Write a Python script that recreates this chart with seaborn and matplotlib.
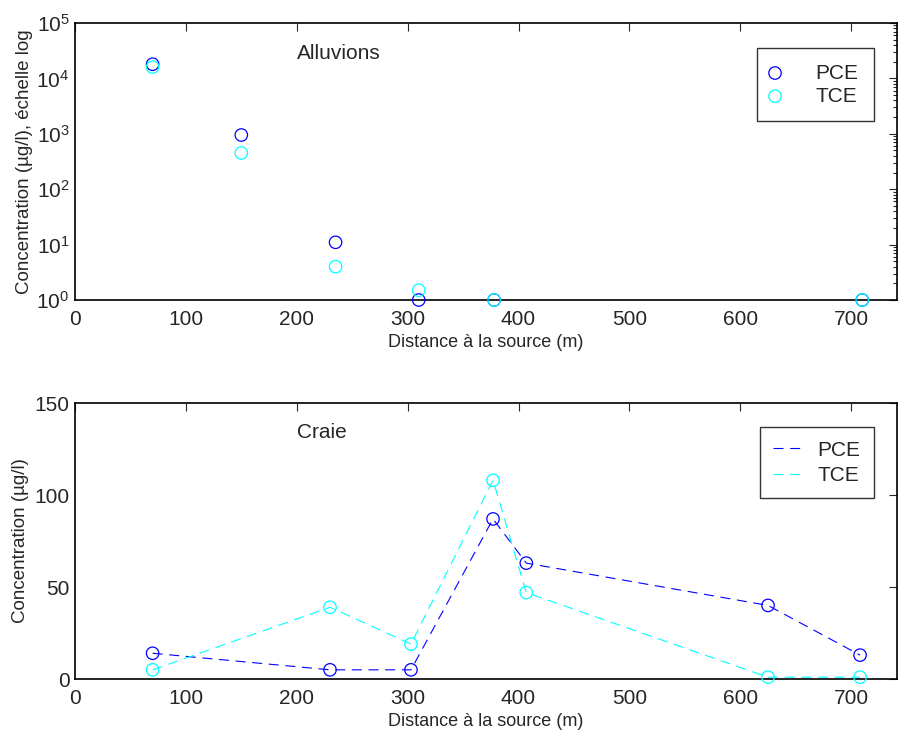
import numpy as np
import pandas as pd
import matplotlib
matplotlib.use("Agg")
import matplotlib.pyplot as plt
import seaborn as sns

# Alluvions (log scale, markers only)
allu_dist = [70, 150, 235, 310, 378, 710]
allu_pce = [18000, 950, 11, 1.0, 1.0, 1.0]
allu_tce = [16000, 450, 4, 1.5, 1.0, 1.0]

# Craie (linear scale, dashed lines)
craie_dist = [70, 230, 303, 377, 407, 625, 708]
craie_pce = [14, 5, 5, 87, 63, 40, 13]
craie_tce = [5, 39, 19, 108, 47, 1, 1]

blue = (0, 0, 1)
cyan = (0, 1, 1)

sns.set_style("white")
plt.rcParams["font.family"] = ["Liberation Sans", "DejaVu Sans"]
plt.rcParams["mathtext.default"] = "regular"
plt.rcParams["xtick.direction"] = "in"
plt.rcParams["ytick.direction"] = "in"

fig = plt.figure(figsize=(8.98, 7.31), dpi=100)
ax1 = fig.add_axes([0.0835, 0.5896, 0.915, 0.379])
ax2 = fig.add_axes([0.0835, 0.0711, 0.915, 0.3776])

# top panel
sns.scatterplot(x=allu_dist, y=allu_pce, ax=ax1, marker="o", s=80,
                facecolors="none", edgecolor=blue, linewidth=0.9, label="PCE",
                clip_on=False, zorder=5)
sns.scatterplot(x=allu_dist, y=allu_tce, ax=ax1, marker="o", s=80,
                facecolors="none", edgecolor=cyan, linewidth=0.9, label="TCE",
                clip_on=False, zorder=5)
ax1.set_yscale("log")
ax1.set_ylim(1, 1e5)
ax1.set_xlim(0, 741)
ax1.set_xticks(range(0, 800, 100))
ax1.set_yticks([1, 10, 100, 1e3, 1e4, 1e5])
ax1.text(200, 2.8e4, "Alluvions", fontsize=15, va="center")
ax1.set_xlabel("Distance à la source (m)", fontsize=13, labelpad=4)
ax1.set_ylabel("Concentration (µg/l), échelle log", fontsize=13.5, labelpad=2)
leg1 = ax1.legend(loc="upper right", bbox_to_anchor=(0.972, 0.91), fontsize=15,
                  frameon=True, fancybox=False, edgecolor="black", borderaxespad=0,
                  handlelength=0.2, handletextpad=1.82, borderpad=0.75,
                  labelspacing=0.2)
leg1.get_frame().set_linewidth(1.0)

# bottom panel
for vals, col, name in [(craie_pce, blue, "PCE"), (craie_tce, cyan, "TCE")]:
    df = pd.DataFrame({"dist": craie_dist, "conc": vals})
    sns.lineplot(data=df, x="dist", y="conc", ax=ax2, color=col, linewidth=0.8,
                 linestyle=(0, (9, 6)), label=name)
    sns.scatterplot(data=df, x="dist", y="conc", ax=ax2, marker="o", s=80,
                    facecolors="none", edgecolor=col, linewidth=0.9,
                    clip_on=False, zorder=5)
ax2.set_ylim(0, 150)
ax2.set_xlim(0, 741)
ax2.set_xticks(range(0, 800, 100))
ax2.set_yticks([0, 50, 100, 150])
ax2.text(200, 134, "Craie", fontsize=15, va="center")
ax2.set_xlabel("Distance à la source (m)", fontsize=13, labelpad=4)
ax2.set_ylabel("Concentration (µg/l)", fontsize=13.5, labelpad=4)
leg2 = ax2.legend(loc="upper right", bbox_to_anchor=(0.972, 0.913), fontsize=15,
                  frameon=True, fancybox=False, edgecolor="black", borderaxespad=0,
                  handlelength=1.5, handletextpad=0.6, borderpad=0.65,
                  labelspacing=0.3)
leg2.get_frame().set_linewidth(1.0)

for ax in (ax1, ax2):
    ax.tick_params(axis="both", which="both", top=True, right=True, labelsize=15,
                   length=6, width=0.8)
    ax.tick_params(axis="x", which="both", pad=7)
    ax.tick_params(axis="y", which="both", pad=4)
    ax.tick_params(axis="both", which="minor", length=3)
    for sp in ax.spines.values():
        sp.set_linewidth(1.2)
        sp.set_color("black")

fig.savefig("out.png", dpi=100)
